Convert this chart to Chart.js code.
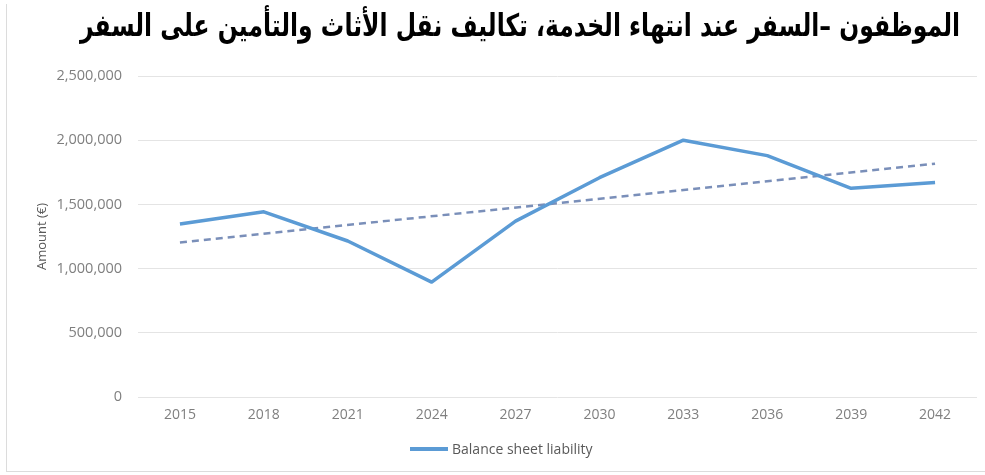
<!DOCTYPE html>
<html>
<head>
<meta charset="utf-8">
<script src="https://cdn.jsdelivr.net/npm/chart.js@4/dist/chart.umd.min.js"></script>
<style>
  html, body { margin: 0; padding: 0; background: #fff; }
  #wrap { position: relative; width: 985px; height: 475px; overflow: hidden; }
  #frame { position: absolute; left: 6px; top: 4px; width: 985px; height: 467px;
           border-left: 1px solid #dcdcdc; border-bottom: 1px solid #dcdcdc; }
  #myChart { position: absolute; left: 0; top: 0; }
  #title { position: absolute; left: 80px; top: 7px; width: 880px; height: 44px; }
  #title span { position: absolute; right: 0; top: 0; white-space: nowrap;
                font-family: "DejaVu Sans", sans-serif; font-weight: bold; font-size: 31px;
                color: #000; transform-origin: right top; }
  #legend { position: absolute; left: 410px; top: 439px; font-family: "Open Sans", sans-serif;
            font-size: 14px; color: #595959; display: flex; align-items: center; }
  #legend .swatch { display: inline-block; width: 38px; height: 4px; background: #5b9bd5;
                    margin-right: 4px; }
</style>
</head>
<body>
<div id="wrap">
  <div id="frame"></div>
  <canvas id="myChart" width="985" height="475"></canvas>
  <div id="title"><span dir="rtl">الموظفون –السفر عند انتهاء الخدمة، تكاليف نقل الأثاث والتأمين على السفر</span></div>
  <div id="legend"><span class="swatch"></span>Balance sheet liability</div>
</div>
<script>
// years on the x axis
const years = ['2015', '2018', '2021', '2024', '2027', '2030', '2033', '2036', '2039', '2042'];
// balance sheet liability per year (EUR)
const liability = [1347000, 1442000, 1215000, 895000, 1370000, 1708000, 2000000, 1880000, 1625000, 1670000];
// linear trend, only its two ends are known
const trend = [1203000, null, null, null, null, null, null, null, null, 1817000];
// y axis ticks
const yTicks = [0, 500000, 1000000, 1500000, 2000000, 2500000];

// squeeze the heading so it fits its box
const titleBox = document.getElementById('title');
const titleText = titleBox.querySelector('span');
const sx = titleBox.clientWidth / titleText.scrollWidth;
titleText.style.transform = 'scaleX(' + sx + ')';

const ctx = document.getElementById('myChart');

const myChart = new Chart(ctx, {
    type: 'line',
    data: {
        labels: years,
        datasets: [{
            label: 'Balance sheet liability',
            data: liability,
            borderColor: '#5b9bd5',
            borderWidth: 3.5,
            pointRadius: 0,
            tension: 0,
            borderJoinStyle: 'round'
        }, {
            label: 'Linear (Balance sheet liability)',
            data: trend,
            borderColor: '#7a8fb9',
            borderWidth: 2.5,
            borderDash: [7, 5],
            pointRadius: 0,
            spanGaps: true
        }]
    },
    options: {
        responsive: false,
        animation: false,
        layout: { padding: { top: 76, right: 8, left: 0, bottom: 0 } },
        plugins: {
            legend: { display: false },
            tooltip: { enabled: false }
        },
        scales: {
            x: {
                offset: true,
                grid: { display: false, drawTicks: false },
                border: { display: false },
                ticks: {
                    padding: 10,
                    color: '#7f7f7f',
                    font: { family: 'Open Sans', size: 14 }
                },
                afterFit: function (scale) { scale.height = 78; }
            },
            y: {
                min: 0,
                max: 2500000,
                afterBuildTicks: function (scale) {
                    scale.ticks = yTicks.map(v => ({ value: v }));
                },
                grid: { color: '#e4e4e4', lineWidth: 1, drawTicks: false },
                border: { display: false },
                ticks: {
                    padding: 16,
                    color: '#7f7f7f',
                    font: { family: 'Open Sans', size: 14.5 },
                    callback: function (v) { return v.toLocaleString('en-US'); }
                },
                title: {
                    display: true,
                    text: 'Amount (€)',
                    color: '#595959',
                    font: { family: 'Open Sans', size: 13 },
                    padding: { top: 34, bottom: 0 }
                },
                afterFit: function (scale) { scale.width = 138; }
            }
        }
    }
});
</script>
</body>
</html>
